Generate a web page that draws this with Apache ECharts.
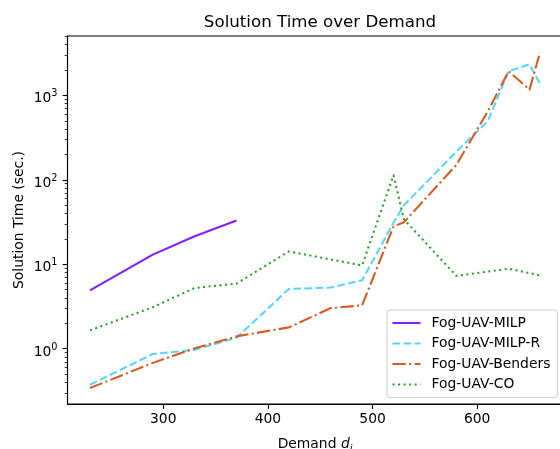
<!DOCTYPE html>
<html>
<head>
<meta charset="utf-8">
<script src="https://cdn.jsdelivr.net/npm/echarts@6/dist/echarts.min.js"></script>
<style>
  html, body { margin: 0; padding: 0; background: #fff; }
  #chart { width: 560px; height: 449px; }
</style>
</head>
<body>
<div id="chart"></div>
<script>
// Demand levels and measured solution times (seconds) per method
const demandMilp = [230, 290, 330, 370];
const timeMilp = [4.9, 13, 21.5, 33];

const demandAll = [230, 290, 330, 370, 420, 460, 490, 520, 530, 580, 610, 630, 650, 660];
const timeMilpR = [0.375, 0.865, 0.97, 1.35, 5.1, 5.3, 6.45, 31, 50, 215, 493, 1930, 2330, 1370];
const timeBenders = [0.342, 0.68, 1.01, 1.40, 1.79, 3.03, 3.26, 28, 31.5, 150, 640, 1930, 1170, 3240];

const demandCo = [230, 290, 330, 370, 420, 460, 490, 520, 530, 580, 630, 660];
const timeCo = [1.65, 3.1, 5.24, 5.9, 14.2, 11.4, 9.7, 113, 34, 7.3, 8.87, 7.4];

const seriesNames = ['Fog-UAV-MILP', 'Fog-UAV-MILP-R', 'Fog-UAV-Benders', 'Fog-UAV-CO'];

// Axis ticks
const xTicks = [300, 400, 500, 600];
const yMajorTicks = [1, 10, 100, 1000];
const yMinorTicks = [0.3, 0.4, 0.5, 0.6, 0.7, 0.8, 0.9,
  2, 3, 4, 5, 6, 7, 8, 9,
  20, 30, 40, 50, 60, 70, 80, 90,
  200, 300, 400, 500, 600, 700, 800, 900,
  2000, 3000, 4000, 5000];

const FONT = 'DejaVu Sans';
const X_MIN = 208.5, X_MAX = 681.5;
const Y_MIN = Math.pow(10, -0.6545), Y_MAX = Math.pow(10, 3.703);

// line width and dash patterns (px)
const LW = 2.08;
const DASHED = [7.7, 3.33];
const DASH_DOT = [13.3, 3.33, 2.08, 3.33];
const DOTTED = [2.08, 3.44];

const pairs = (xs, ys) => xs.map((x, i) => [x, ys[i]]);

function lineSeries(name, xs, ys, color, dash) {
  return {
    name: name,
    type: 'line',
    data: pairs(xs, ys),
    symbol: 'none',
    showSymbol: false,
    xAxisIndex: 0,
    yAxisIndex: 0,
    lineStyle: { color: color, width: LW, type: dash, cap: 'butt', join: 'round' },
    itemStyle: { color: color },
    emphasis: { disabled: true }
  };
}

const chart = echarts.init(document.getElementById('chart'), null, { renderer: 'canvas' });

const logAxisBase = {
  type: 'log',
  logBase: 10,
  min: Y_MIN,
  max: Y_MAX,
  position: 'left',
  splitLine: { show: false },
  minorTick: { show: false },
  minorSplitLine: { show: false }
};

chart.setOption({
  animation: false,
  backgroundColor: '#ffffff',
  textStyle: { fontFamily: FONT },
  title: {
    text: 'Solution Time over Demand',
    left: 315,
    textAlign: 'center',
    top: 9,
    textStyle: { fontFamily: FONT, fontSize: 16.67, fontWeight: 'normal', color: '#000' }
  },
  grid: {
    left: 67.5,
    top: 36,
    width: 495,
    height: 368,
    containLabel: false,
    outerBoundsMode: 'none',
    show: true,
    borderColor: '#000',
    borderWidth: 1.1,
    backgroundColor: 'transparent'
  },
  legend: {
    data: seriesNames,
    orient: 'vertical',
    left: 387,
    top: 310,
    padding: [6, 7, 6, 4.5],
    itemWidth: 28,
    itemHeight: 14,
    itemGap: 6.5,
    itemStyle: { opacity: 0 },
    backgroundColor: 'rgba(255,255,255,0.8)',
    borderColor: '#cccccc',
    borderWidth: 1,
    borderRadius: 3,
    textStyle: { fontFamily: FONT, fontSize: 13.89, color: '#000', padding: [0, 0, 0, 6] }
  },
  xAxis: {
    type: 'value',
    min: X_MIN,
    max: X_MAX,
    name: '{a|Demand }{d|d}{i|i}',
    nameLocation: 'middle',
    nameGap: 33,
    nameMoveOverlap: false,
    nameTextStyle: {
      rich: {
        a: { fontFamily: FONT, fontSize: 13.89, color: '#000', lineHeight: 16, verticalAlign: 'top' },
        d: { fontFamily: FONT, fontSize: 13.89, fontStyle: 'italic', color: '#000', lineHeight: 16, verticalAlign: 'top' },
        i: { fontFamily: FONT, fontSize: 9.7, fontStyle: 'italic', color: '#000', lineHeight: 10, padding: [7, 0, 0, 0], verticalAlign: 'top' }
      }
    },
    axisLine: { show: true, lineStyle: { color: '#000', width: 1.1 } },
    axisTick: { show: true, customValues: xTicks, length: 4.9, lineStyle: { color: '#000', width: 1.1 } },
    axisLabel: {
      customValues: xTicks,
      margin: 8,
      fontFamily: FONT,
      fontSize: 13.89,
      color: '#000'
    },
    splitLine: { show: false }
  },
  yAxis: [
    Object.assign({}, logAxisBase, {
      name: 'Solution Time (sec.)',
      nameLocation: 'middle',
      nameGap: 41,
      nameMoveOverlap: false,
      nameTextStyle: { fontFamily: FONT, fontSize: 13.89, color: '#000' },
      axisLine: { show: true, lineStyle: { color: '#000', width: 1.1 } },
      axisTick: { show: true, customValues: yMajorTicks, length: 4.9, lineStyle: { color: '#000', width: 1.1 } },
      axisLabel: {
        customValues: yMajorTicks,
        margin: 10,
        padding: [6, 0, 0, 0],
        formatter: function (v) {
          return '{b|10}{s|' + Math.round(Math.log10(v)) + '}';
        },
        rich: {
          b: { fontFamily: FONT, fontSize: 13.89, color: '#000', lineHeight: 15, verticalAlign: 'bottom' },
          s: { fontFamily: FONT, fontSize: 9.7, color: '#000', lineHeight: 10, padding: [0, 0, 7, 0], verticalAlign: 'bottom' }
        }
      }
    }),
    Object.assign({}, logAxisBase, {
      axisLine: { show: false },
      axisTick: { show: true, customValues: yMinorTicks, length: 2.8, lineStyle: { color: '#000', width: 0.8 } },
      axisLabel: { show: false }
    })
  ],
  series: [
    lineSeries(seriesNames[0], demandMilp, timeMilp, '#8020fd', 'solid'),
    lineSeries(seriesNames[1], demandAll, timeMilpR, '#56d6ff', DASHED),
    lineSeries(seriesNames[2], demandAll, timeBenders, '#d95a1f', DASH_DOT),
    lineSeries(seriesNames[3], demandCo, timeCo, '#2ea12a', DOTTED)
  ]
});
</script>
</body>
</html>
